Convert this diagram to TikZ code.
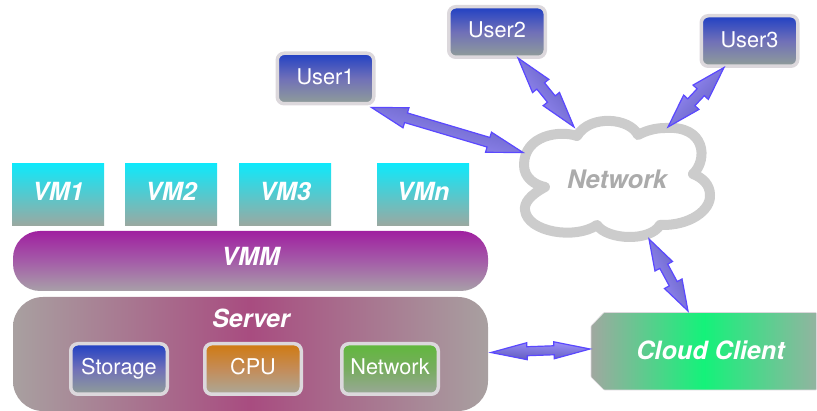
\documentclass[tikz,border=0pt]{standalone}
\usepackage{fontspec}
\setmainfont{TeX Gyre Heros}
\usetikzlibrary{calc}
\definecolor{bluetop}{HTML}{2040C4}
\definecolor{bluemid}{HTML}{7070B8}
\definecolor{bluebot}{HTML}{909E98}
\definecolor{cputop}{HTML}{D07A10}
\definecolor{cpumid}{HTML}{C48C58}
\definecolor{cpubot}{HTML}{ABA898}
\definecolor{nettop}{HTML}{60B83C}
\definecolor{netmid}{HTML}{78AC60}
\definecolor{netbot}{HTML}{9AA898}
\definecolor{vmtop}{HTML}{10E8FA}
\definecolor{vmbot}{HTML}{9CA8A0}
\definecolor{vmmtop}{HTML}{A020A0}
\definecolor{vmmmid}{HTML}{A45CA8}
\definecolor{vmmbot}{HTML}{A8A0A8}
\definecolor{edgegray}{HTML}{DCD8DC}
\definecolor{cloudgray}{HTML}{CCCCCC}
\definecolor{cloudtext}{HTML}{ABABAB}
\definecolor{arrowedge}{HTML}{5A48FF}
\definecolor{arrowdark}{HTML}{5E5ABC}
\definecolor{arrowlight}{HTML}{9E92FC}
\definecolor{servermid}{HTML}{A84C80}
\definecolor{serverside}{HTML}{A8A0A0}
\definecolor{clientmid}{HTML}{14F27A}
\definecolor{clientleft}{HTML}{A0A8A0}
\definecolor{clientright}{HTML}{92B4A0}
\tikzset{
  x=1pt,y=-1pt,
  every node/.append style={text=white,inner sep=0pt,align=center},
  hwbox/.style={draw=edgegray,line width=3.5pt,rounded corners=7pt,minimum width=96.5pt,minimum height=50.5pt,
     font=\fontsize{21.7}{22}\selectfont,text height=11pt,text depth=0pt},
  bluebox/.style={hwbox,top color=bluetop,bottom color=bluebot,middle color=bluemid},
  cpubox/.style={hwbox,top color=cputop,bottom color=cpubot,middle color=cpumid},
  netbox/.style={hwbox,top color=nettop,bottom color=netbot,middle color=netmid},
  boldlabel/.style={font=\fontsize{25}{25}\selectfont\bfseries\itshape},
  vmbox/.style={boldlabel,minimum width=92pt,minimum height=62pt,text height=11pt,text depth=0pt,top color=vmtop,bottom color=vmbot},
  vmmbar/.style={boldlabel,rounded corners=27pt,minimum width=475pt,minimum height=60pt,text height=10pt,text depth=0pt,
     top color=vmmtop,bottom color=vmmbot,middle color=vmmmid},
  serverbar/.style={rounded corners=30pt,minimum width=475pt,minimum height=114pt,left color=serverside,right color=serverside,middle color=servermid},
  clientshape/.style={left color=clientleft,right color=clientright,middle color=clientmid,draw=edgegray,line width=.6pt,rounded corners=.8pt},
  cloudline/.style={draw=cloudgray,line width=10pt,fill=white,line join=round},
  linkarrow/.style={draw=arrowedge,line width=1.2pt,line join=miter,top color=arrowdark,bottom color=arrowlight},
}
\newcommand{\dblarrow}[6]{%
  \coordinate (p1) at ($(#1)!#3!(#2)$);
  \coordinate (p2) at ($(#2)!#3!(#1)$);
  \path[linkarrow,shading angle=#6] (#1) -- ($(p1)!#4!90:(#2)$) -- ($(p1)!#5!90:(#2)$)
    -- ($(p2)!#5!-90:(#1)$) -- ($(p2)!#4!-90:(#1)$) -- (#2)
    -- ($(p2)!#4!90:(#1)$) -- ($(p2)!#5!90:(#1)$)
    -- ($(p1)!#5!-90:(#2)$) -- ($(p1)!#4!-90:(#2)$) -- cycle;
}
\begin{document}
\begin{tikzpicture}
\useasboundingbox (0,0) rectangle (817,411);
% cloud
\path[cloudline] (577,136)
  .. controls (560,130) and (524,135) .. (524,165)
  .. controls (524,178) and (535,185) .. (545,187)
  .. controls (530,195) and (524,203) .. (525,210)
  .. controls (527,232) and (575,240) .. (597,225)
  .. controls (607,240) and (650,242) .. (660,225)
  .. controls (690,226) and (711,210) .. (710,195)
  .. controls (710,185) and (703,178) .. (693,174)
  .. controls (708,160) and (706,125) .. (665,128)
  .. controls (655,128) and (645,131) .. (638,135)
  .. controls (630,118) and (590,114) .. (577,136) -- cycle;
\node[font=\fontsize{25.5}{26}\selectfont\bfseries\itshape,text=cloudtext,anchor=base] (cloudlabel) at (617,189) {Network};
% VMs
\node[vmbox] (vm1) at (58,195) {VM1};
\node[vmbox] (vm2) at (171,195) {VM2};
\node[vmbox] (vm3) at (285,195) {VM3};
\node[vmbox] (vmn) at (423,195) {VMn};
\node[vmmbar] (vmm) at (250.5,261) {VMM};
\node[serverbar] (server) at (250.5,354) {};
\node[boldlabel,anchor=base] (serverlabel) at (251,327.5) {Server};
\node[bluebox] (storage) at (119,369) {Storage};
\node[cpubox] (cpu) at (253,369) {CPU};
\node[netbox] (netres) at (390,369) {Network};
% users
\node[bluebox,text height=13pt] (user1) at (325.5,78.5) {User1};
\node[bluebox,text height=11pt] (user2) at (497,32) {User2};
\node[bluebox,text height=13pt] (user3) at (749.5,41) {User3};
% client
\path[clientshape] (604,312.5) -- (816.5,312.5) -- (816.5,390) -- (604,390) -- (591,377) -- (591,326) -- cycle;
\node[font=\fontsize{25.2}{26}\selectfont\bfseries\itshape,anchor=base] (client) at (710.5,360) {Cloud Client};
% connectors
\coordinate (a1) at (371.5,107.5);
\coordinate (b1) at (523,152.5);
\coordinate (a2) at (518,58);
\coordinate (b2) at (574,127);
\coordinate (a3) at (724,67.5);
\coordinate (b3) at (668,127);
\coordinate (a4) at (649,239);
\coordinate (b4) at (688,311);
\coordinate (a5) at (491,352.5);
\coordinate (b5) at (590,349);
\dblarrow{a1}{b1}{36pt}{10.5pt}{5pt}{-16}
\dblarrow{a2}{b2}{36pt}{10.5pt}{5pt}{-51}
\dblarrow{a3}{b3}{34pt}{10.5pt}{5pt}{-133}
\dblarrow{a4}{b4}{31pt}{10pt}{4.5pt}{-62}
\dblarrow{a5}{b5}{36pt}{8.5pt}{4.5pt}{178}
\end{tikzpicture}
\end{document}
